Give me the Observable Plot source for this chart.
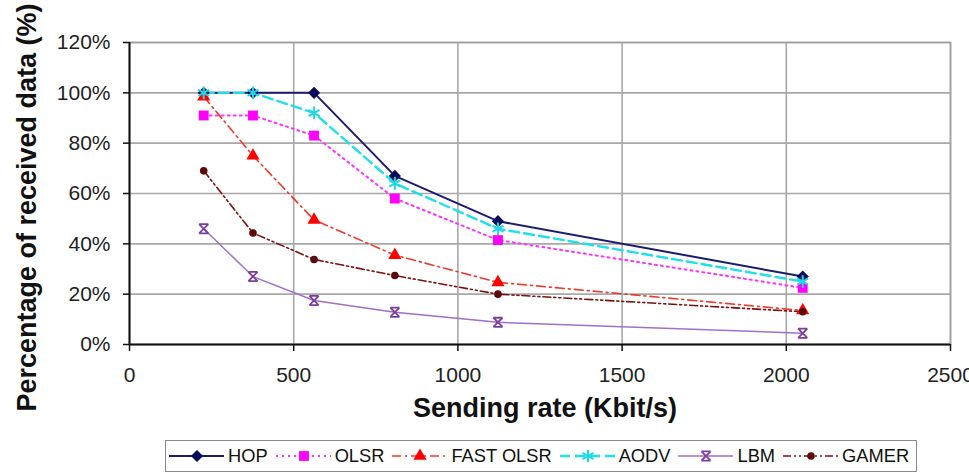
<!DOCTYPE html>
<html>
<head>
<meta charset="utf-8">
<script src="https://cdn.jsdelivr.net/npm/d3@7"></script>
<script src="https://cdn.jsdelivr.net/npm/@observablehq/plot@0.6"></script>
<style>
  html, body { margin: 0; padding: 0; background: #fff; overflow: hidden; }
  body { width: 969px; height: 473px; position: relative; font-family: "Liberation Sans", Arial, sans-serif; }
  #chart { position: absolute; left: 0; top: 0; }
  #legend {
    position: absolute; left: 165px; top: 440px; box-sizing: border-box;
    width: 752px; height: 32px; border: 1.5px solid #8a8a8a; background: #fff;
    display: flex; align-items: center; padding-left: 2px; white-space: nowrap;
    font-size: 18.3px; color: #111;
  }
  .item { display: flex; align-items: center; margin-right: 7px; flex-shrink: 0; white-space: nowrap; }
  .item svg { margin-right: 3px; flex-shrink: 0; }
</style>
</head>
<body>
<div id="chart"></div>
<div id="legend"></div>
<script>
// ---- data ----
const rates = [226, 376, 562, 808, 1122, 2050];            // Sending rate (Kbit/s)
const seriesNames = ["HOP", "OLSR", "FAST OLSR", "AODV", "LBM", "GAMER"];
const hop      = [100, 100, 100, 67, 49, 27];
const olsr     = [91, 91, 83, 58, 41.5, 22.5];
const fastOlsr = [98.5, 75, 49.5, 35.5, 24.7, 13.5];
const aodv     = [100, 100, 92, 64, 46, 25];
const lbm      = [46, 27, 17.5, 12.8, 8.8, 4.5];
const gamer    = [69, 44.3, 33.8, 27.4, 20, 13];
const xTicks = [0, 500, 1000, 1500, 2000, 2500];
const yTicks = [0, 20, 40, 60, 80, 100, 120];
const xLabel = "Sending rate (Kbit/s)";
const yLabel = "Percentage of received data (%)";

// ---- styles ----
const hourglass = {
  draw(ctx, size) {
    const r = Math.sqrt(size) / 2;
    ctx.moveTo(-r, -r); ctx.lineTo(r, r);
    ctx.moveTo(r, -r); ctx.lineTo(-r, r);
    ctx.moveTo(-r, -r); ctx.lineTo(r, -r);
    ctx.moveTo(-r, r); ctx.lineTo(r, r);
  }
};
const styles = {
  "HOP":       {stroke: "#1c1c6e", dash: null,               width: 2,   symbol: d3.symbolDiamond2,  r: 5.5, fill: "#0b0b5c", mstroke: "none", msw: 0},
  "OLSR":      {stroke: "#ff33ff", dash: "2,4",              width: 2,   symbol: d3.symbolSquare2,   r: 6.3, fill: "#ff00ff", mstroke: "none", msw: 0},
  "FAST OLSR": {stroke: "#ee3b2b", dash: "9,4,2,4",          width: 1.6, symbol: d3.symbolTriangle2, r: 6.3, fill: "#ff0000", mstroke: "none", msw: 0},
  "AODV":      {stroke: "#1ee0e8", dash: "10,5",             width: 2.4, symbol: d3.symbolAsterisk,  r: 6,   fill: "none",    mstroke: "#22d8e6", msw: 2},
  "LBM":       {stroke: "#a070c8", dash: null,               width: 1.5, symbol: hourglass,          r: 5.2, fill: "none",    mstroke: "#7d3f99", msw: 1.8},
  "GAMER":     {stroke: "#7a1010", dash: "8,3,2,3,2,3",      width: 1.6, symbol: d3.symbolCircle,    r: 3.8, fill: "#5a0a0a", mstroke: "none", msw: 0}
};

const values = [hop, olsr, fastOlsr, aodv, lbm, gamer];
const rows = seriesNames.flatMap((s, i) => rates.map((x, j) => ({series: s, rate: x, pct: values[i][j]})));

const lineMarks = seriesNames.map(s => Plot.line(rows.filter(d => d.series === s), {
  x: "rate", y: "pct", stroke: styles[s].stroke, strokeWidth: styles[s].width,
  strokeDasharray: styles[s].dash || undefined
}));
const dotMarks = seriesNames.map(s => Plot.dot(rows.filter(d => d.series === s), {
  x: "rate", y: "pct", symbol: styles[s].symbol, r: styles[s].r,
  fill: styles[s].fill, stroke: styles[s].mstroke, strokeWidth: styles[s].msw
}));

const chart = Plot.plot({
  width: 969,
  height: 436,
  marginLeft: 129,
  marginRight: 19,
  marginTop: 42,
  marginBottom: 92,
  style: {fontFamily: '"Liberation Sans", Arial, sans-serif', color: "#222", background: "#fff", overflow: "visible"},
  x: {domain: [0, 2500]},
  y: {domain: [0, 120]},
  marks: [
    Plot.gridX(xTicks.slice(1), {stroke: "#a8a8a8", strokeOpacity: 1, strokeWidth: 1.6}),
    Plot.gridY(yTicks.slice(1), {stroke: "#a8a8a8", strokeOpacity: 1, strokeWidth: 1.6}),
    Plot.frame({stroke: "#a0a0a0", strokeWidth: 1.6}),
    Plot.ruleX([0], {stroke: "#111", strokeWidth: 2}),
    Plot.ruleY([0], {stroke: "#111", strokeWidth: 2}),
    Plot.axisX(xTicks, {tickSize: 7, tickPadding: 16, fontSize: 21, label: null, tickFormat: d => String(d), stroke: "#111", strokeWidth: 1.5, fill: "#222"}),
    Plot.axisY(yTicks, {tickSize: 6, tickPadding: 13, fontSize: 21, label: null, tickFormat: d => d + "%", stroke: "#111", strokeWidth: 1.5, fill: "#222"}),
    ...lineMarks,
    ...dotMarks,
    Plot.text([xLabel], {frameAnchor: "bottom", textAnchor: "middle", lineAnchor: "middle", dy: 64, dx: 5, fontSize: 27, fontWeight: "bold", fill: "#111"}),
    Plot.text([yLabel], {frameAnchor: "left", textAnchor: "middle", lineAnchor: "middle", rotate: -90, dx: -102, dy: 14, fontSize: 27, fontWeight: "bold", fill: "#111"})
  ]
});
document.getElementById("chart").appendChild(chart);

// ---- legend ----
const legend = d3.select("#legend");
seriesNames.forEach(s => {
  const st = styles[s];
  const item = legend.append("div").attr("class", "item");
  const svg = item.append("svg").attr("width", 57).attr("height", 20);
  svg.append("line").attr("x1", 1).attr("x2", 56).attr("y1", 10).attr("y2", 10)
    .attr("stroke", st.stroke).attr("stroke-width", st.width)
    .attr("stroke-dasharray", st.dash);
  svg.append("path").attr("transform", "translate(29,10)")
    .attr("d", d3.symbol(st.symbol, Math.PI * st.r * st.r)())
    .attr("fill", st.fill).attr("stroke", st.mstroke).attr("stroke-width", st.msw);
  item.append("span").text(s);
});
</script>
</body>
</html>
